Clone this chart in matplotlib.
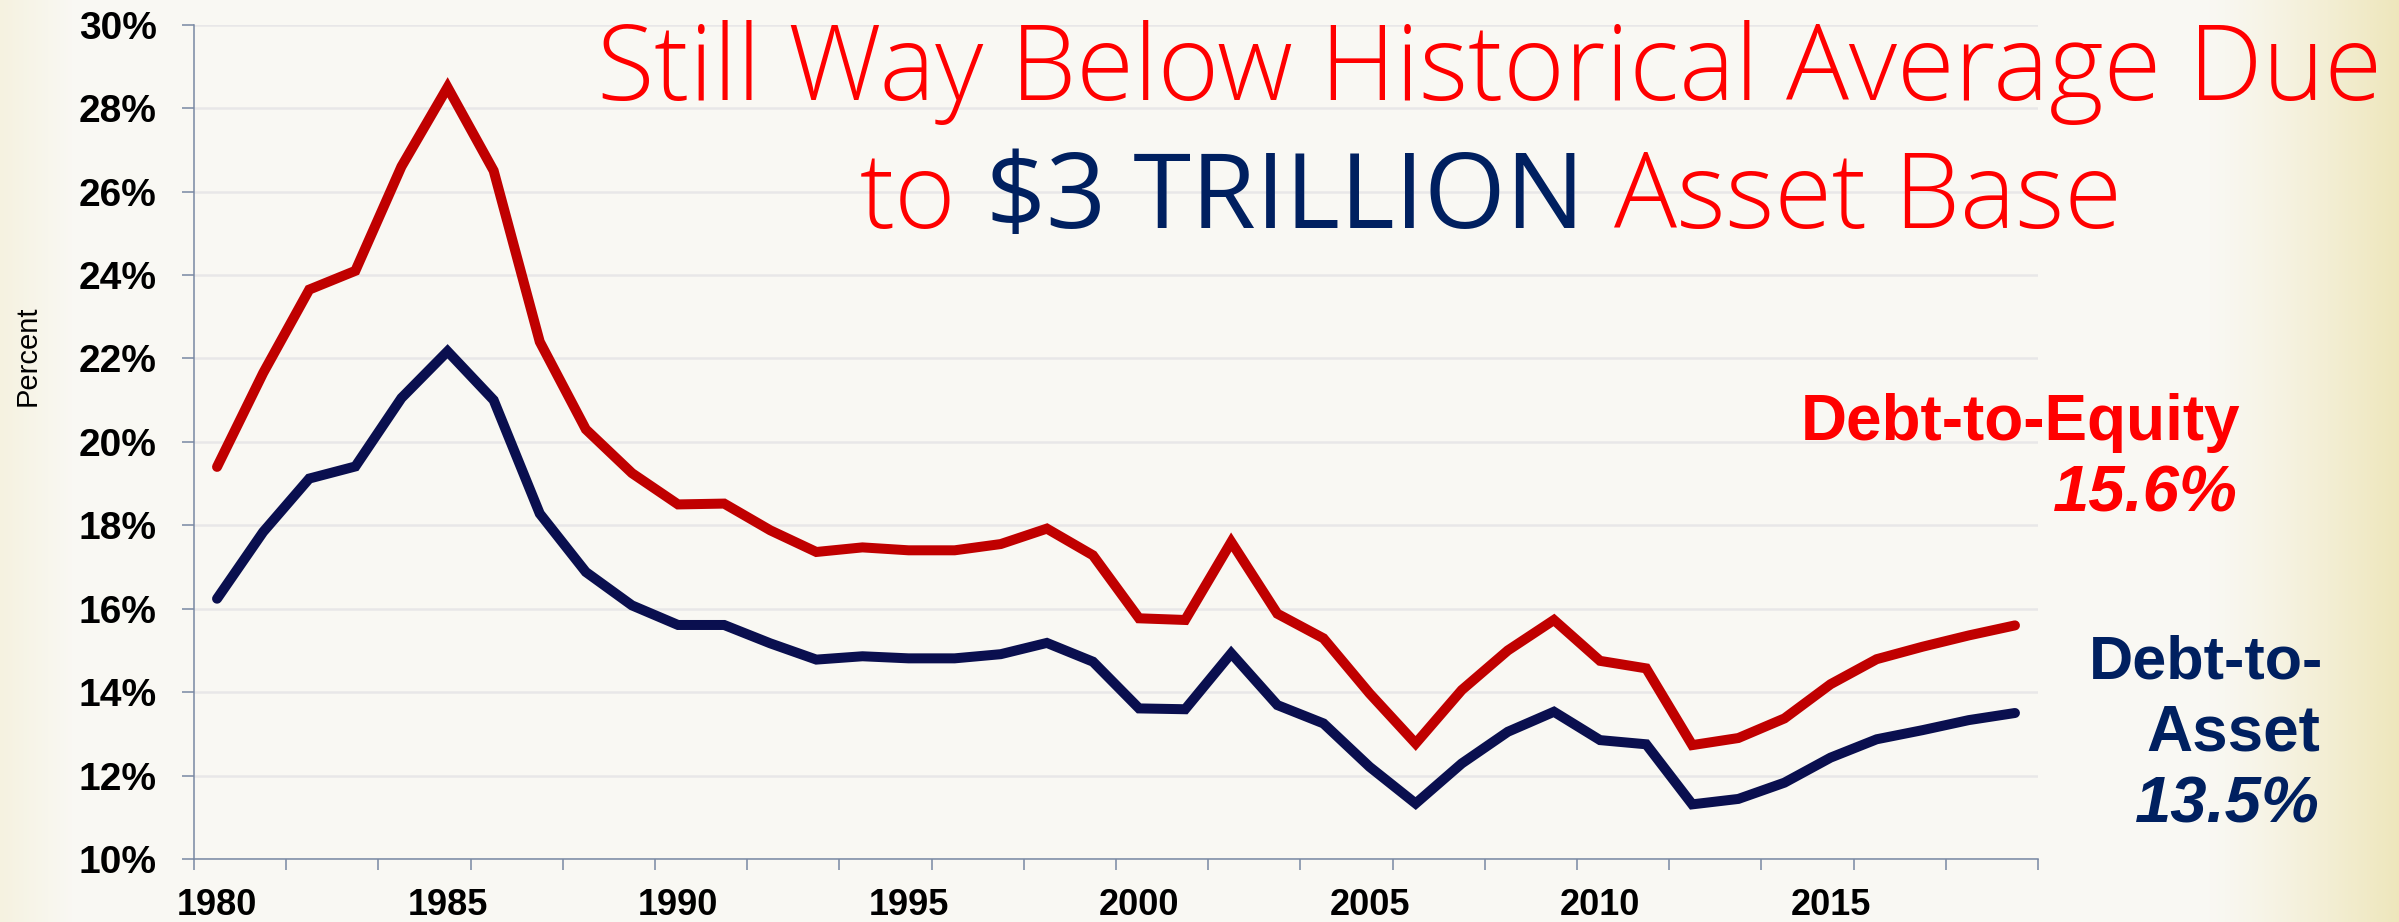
import numpy as np
import matplotlib.pyplot as plt

plt.rcParams['font.family'] = ['Liberation Sans', 'DejaVu Sans']

# datos (porcentaje)
years = list(range(1980, 2020))
debt_to_equity = [19.4, 21.65, 23.65, 24.1, 26.6, 28.5, 26.5, 22.4, 20.3, 19.25,
                  18.5, 18.52, 17.88, 17.36, 17.47, 17.4, 17.4, 17.55, 17.92, 17.28,
                  15.77, 15.73, 17.6, 15.88, 15.29, 13.97, 12.77, 14.05, 15.0, 15.73,
                  14.75, 14.57, 12.73, 12.9, 13.37, 14.19, 14.79, 15.09, 15.36, 15.6]
debt_to_asset = [16.24, 17.84, 19.12, 19.41, 21.05, 22.17, 21.0, 18.28, 16.88, 16.08,
                 15.61, 15.61, 15.17, 14.78, 14.86, 14.81, 14.81, 14.91, 15.18, 14.73,
                 13.61, 13.59, 14.93, 13.69, 13.25, 12.21, 11.33, 12.29, 13.05, 13.53,
                 12.85, 12.75, 11.31, 11.44, 11.83, 12.43, 12.87, 13.09, 13.33, 13.5]
x_labels = [1980, 1985, 1990, 1995, 2000, 2005, 2010, 2015]
y_ticks = list(range(10, 31, 2))

W, H = 2399, 922
red_line = '#C00000'
navy_line = '#0A0F4F'
red_txt = '#FF0000'
navy_txt = '#002060'
axis_col = '#7888A3'

fig = plt.figure(figsize=(W / 100, H / 100), dpi=100)
fig.patch.set_facecolor('#F9F8F3')

# fondo tipo pergamino
bg = fig.add_axes([0, 0, 1, 1], zorder=-10)
bg.axis('off')
xs = np.linspace(0, 1, 800)
edge = np.clip((xs - 0.92) / 0.08, 0, 1) ** 1.2 + np.clip((0.03 - xs) / 0.03, 0, 1) * 0.35
base = np.array([0.978, 0.973, 0.955])
tint = np.array([0.935, 0.905, 0.74])
img = base[None, :] * (1 - edge[:, None]) + tint[None, :] * edge[:, None]
bg.imshow(img[None, :, :], aspect='auto', extent=[0, 1, 0, 1])
bg.set_xlim(0, 1)
bg.set_ylim(0, 1)

ax = fig.add_axes([194 / W, 1 - 859 / H, (2038 - 194) / W, (859 - 24.7) / H])
ax.patch.set_alpha(0)

ax.plot(years, debt_to_equity, color=red_line, linewidth=7.2,
        solid_capstyle='round', solid_joinstyle='miter', zorder=3)
ax.plot(years, debt_to_asset, color=navy_line, linewidth=7.2,
        solid_capstyle='round', solid_joinstyle='miter', zorder=3)

ax.set_xlim(1979.5, 2019.5)
ax.set_ylim(10, 30)

ax.set_yticks(y_ticks)
ax.set_yticklabels([f'{v}%' for v in y_ticks], fontweight='bold', fontsize=28)
ax.tick_params(axis='y', length=9, width=1.1, color=axis_col, pad=18)

ax.set_xticks(x_labels)
ax.set_xticklabels([str(v) for v in x_labels], fontweight='bold', fontsize=26)
ax.set_xticks(np.arange(1979.5, 2020, 2), minor=True)
ax.tick_params(axis='x', which='major', length=0, pad=21)
ax.tick_params(axis='x', which='minor', length=8, width=1.1, color=axis_col)

ax.yaxis.grid(True, color='#E8E7E8', linewidth=1.8)
ax.set_axisbelow(True)
for s in ['top', 'right']:
    ax.spines[s].set_visible(False)
for s in ['left', 'bottom']:
    ax.spines[s].set_color(axis_col)
    ax.spines[s].set_linewidth(1.1)

fig.text(28 / W, 1 - 356 / H, 'Percent', rotation=90, ha='center', va='center', fontsize=21)

# etiquetas a la derecha
fig.text(2240 / W, 1 - 440 / H, 'Debt-to-Equity', ha='right', va='baseline',
         color=red_txt, fontsize=46, fontweight='bold')
fig.text(2238 / W, 1 - 512 / H, '15.6%', ha='right', va='baseline',
         color=red_txt, fontsize=47, fontweight='bold', style='italic')
fig.text(2323 / W, 1 - 678 / H, 'Debt-to-', ha='right', va='baseline',
         color=navy_txt, fontsize=44, fontweight='bold')
fig.text(2320 / W, 1 - 750 / H, 'Asset', ha='right', va='baseline',
         color=navy_txt, fontsize=46, fontweight='bold')
fig.text(2320 / W, 1 - 822 / H, '13.5%', ha='right', va='baseline',
         color=navy_txt, fontsize=47, fontweight='bold', style='italic')

# titulo (dos lineas, la segunda con colores mezclados)
title_font = ['Open Sans', 'DejaVu Sans']
t1 = fig.text(597 / W, 1 - 100 / H, 'Still Way Below Historical Average Due',
              ha='left', va='baseline', color=red_txt, fontsize=60,
              family=title_font, fontweight='light')
fig.canvas.draw()
w1 = t1.get_window_extent().width
size = 60 * 1783 / w1
t1.set_fontsize(size)

pieces = [('to', red_txt, 'light'), ('$3 TRILLION', navy_txt, 'normal'),
          ('Asset Base', red_txt, 'light')]
parts = []
for txt, col, wt in pieces:
    parts.append(fig.text(0, 1 - 228 / H, txt, ha='left', va='baseline', color=col,
                          fontsize=size, family=title_font, fontweight=wt))
fig.canvas.draw()
widths = [p.get_window_extent().width for p in parts]
gap = 0.28 * size * 100 / 72
total = sum(widths) + gap * (len(parts) - 1)
x0 = 1491 - total / 2
for p, wd in zip(parts, widths):
    p.set_x(x0 / W)
    x0 += wd + gap

fig.savefig('out.png', dpi=100, facecolor=fig.get_facecolor())
